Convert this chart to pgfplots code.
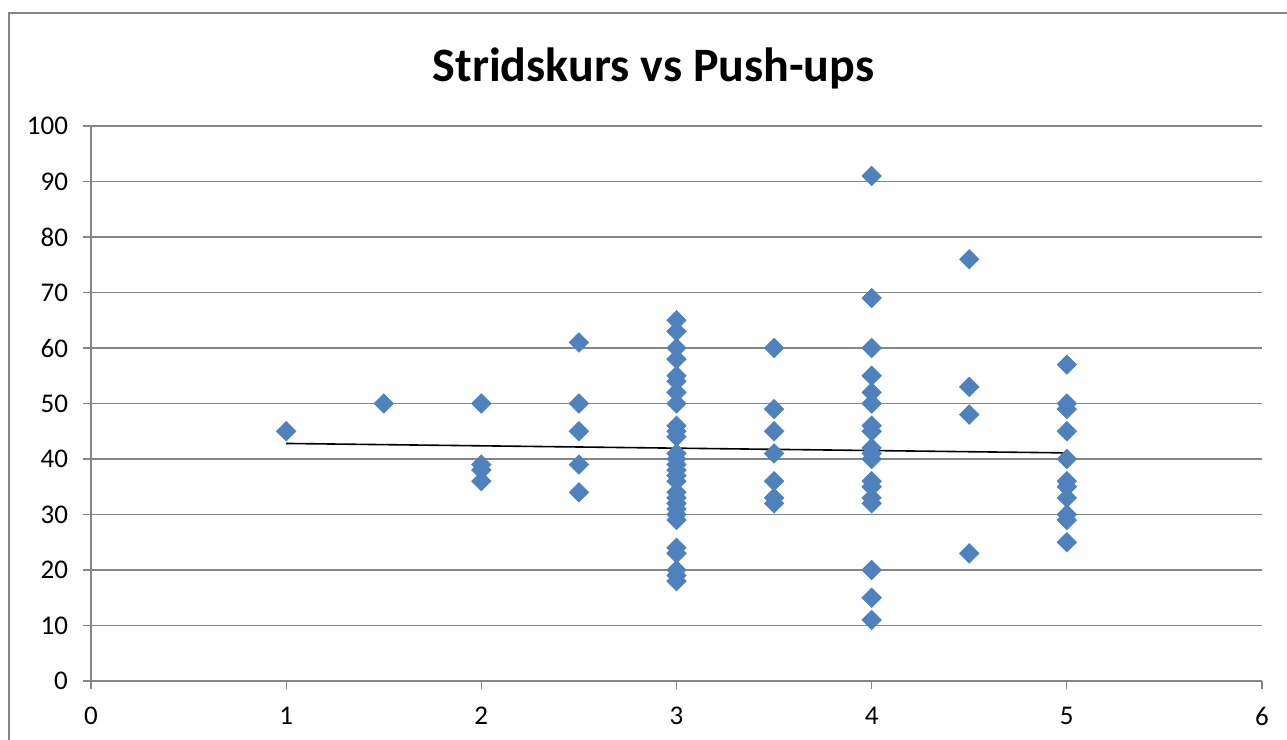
\documentclass[border=0pt]{standalone}
\usepackage{fontspec}
\setmainfont{Carlito}
\usepackage{pgfplots}
\pgfplotsset{compat=1.18}
\definecolor{xlblue}{HTML}{4F81BD}
\definecolor{gridgray}{HTML}{868686}
\begin{document}
\begin{tikzpicture}
\useasboundingbox (-45.5pt,-29.5pt) rectangle (598pt,340.5pt);
\draw[gridgray, line width=0.8pt] (-41pt,-40pt) -- (-41pt,334pt) -- (610pt,334pt);
\begin{axis}[
  at={(0pt,0pt)}, anchor=south west,
  scale only axis, width=585.5pt, height=277.5pt,
  xmin=0, xmax=6, ymin=0, ymax=100,
  xtick={0,1,...,6}, ytick={0,10,...,100},
  axis lines=left, axis line style={-, gridgray, line width=0.6pt},
  separate axis lines,
  tick style={gridgray, line width=0.6pt},
  tick align=outside, major tick length=4pt,
  ymajorgrids, grid style={gridgray, line width=0.6pt},
  every tick label/.append style={font=\fontsize{13.5}{16}\selectfont, black},
  /pgf/number format/assume math mode=true,
  xticklabel style={yshift=-5.5pt},
  yticklabel style={xshift=-4pt},
  title={\bfseries Stridskurs vs Push-ups},
  title style={font=\fontsize{24}{28}\selectfont\bfseries, yshift=9pt, xshift=-11.5pt},
  clip=false,
]
\addplot[only marks, mark=square*, mark size=3.4pt,
  mark options={rotate=45, fill=xlblue, draw=xlblue}] coordinates {
(1,45) (1.5,50)
(2,50) (2,39) (2,38) (2,36)
(2.5,61) (2.5,50) (2.5,45) (2.5,39) (2.5,34)
(3,65) (3,63) (3,60) (3,58) (3,55) (3,54) (3,52) (3,50) (3,46) (3,45) (3,44)
(3,41) (3,40) (3,39) (3,38) (3,37) (3,36) (3,34) (3,33) (3,32) (3,31) (3,30) (3,29)
(3,24) (3,23) (3,20) (3,19) (3,18)
(3.5,60) (3.5,49) (3.5,45) (3.5,41) (3.5,36) (3.5,33) (3.5,32)
(4,91) (4,69) (4,60) (4,55) (4,52) (4,50) (4,46) (4,45) (4,42) (4,41) (4,40)
(4,36) (4,35) (4,33) (4,32) (4,20) (4,15) (4,11)
(4.5,76) (4.5,53) (4.5,48) (4.5,23)
(5,57) (5,50) (5,49) (5,45) (5,40) (5,36) (5,35) (5,33) (5,30) (5,29) (5,25)
};
\addplot[black, line width=0.8pt] coordinates {(1,42.8) (5,41.1)};
\end{axis}
\end{tikzpicture}
\end{document}
